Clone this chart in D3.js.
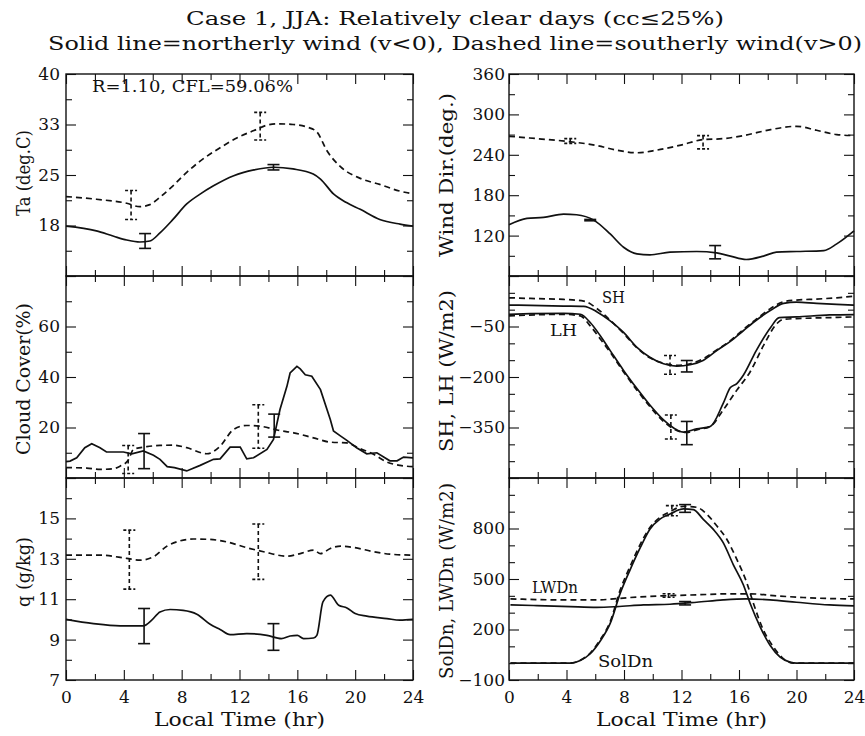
<!DOCTYPE html>
<html><head><meta charset="utf-8">
<script src="https://cdn.jsdelivr.net/npm/d3@7"></script>
<style>body{margin:0;background:#fff}svg{display:block}text{font-family:"DejaVu Serif",serif;fill:#111}</style>
</head><body>
<script>
// ---------------- DATA ----------------
const xMajor = [0,4,8,12,16,20,24];
const xMinor = [2,6,10,14,18,22];

// Ta (deg.C)
const taSolid = [[0,17.4],[2.1,16.7],[3.3,15.9],[4.2,15.35],[5.1,15.05],[5.8,15.2],[6.5,16.4],[7.4,18.4],[8.35,20.7],[9.3,22.2],[10.2,23.4],[11.6,24.9],[13,25.75],[14.35,26.15],[15.7,25.9],[17.1,25.15],[17.6,24.4],[18.5,22.2],[19.4,20.9],[20.35,19.9],[21.7,18.4],[23.1,17.7],[24,17.4]];
const taDashed = [[0,21.8],[2.1,21.4],[4.2,20.8],[5.1,20.3],[5.8,20.6],[6.5,21.7],[7.4,23.4],[8.35,25.4],[9.3,27.1],[10.7,29.1],[12,30.7],[13,31.6],[13.9,32.4],[14.6,32.6],[15.7,32.5],[16.7,32.1],[17.35,31.4],[18.05,28.6],[19,26.2],[20.35,24.5],[21.7,23.6],[23.1,22.6],[24,22.2]];
const taSolidErr = [[5.47,16.3,14.1],[14.35,26.55,25.75]];
const taDashedErr = [[4.5,22.7,18.4],[13.43,34.3,30.2]];
const taMajor = [40,32.5,25,17.5,10], taLabels = ["40","33","25","18",""], taMinor = [36.25,28.75,21.25,13.75];

// Wind Dir (deg.)
const wdSolid = [[0,136],[1.25,145.5],[2.4,147],[3.8,152],[4.7,151],[5.9,143],[7.04,122.4],[7.97,102.7],[8.9,92.9],[9.8,91.4],[11.2,95.4],[13.06,96.4],[14.45,94.4],[15.4,89.5],[16.5,84.5],[17.7,89.5],[18.6,95.4],[20,96.4],[21.9,97.8],[22.8,107.7],[24,127]];
const wdDashed = [[0,267.5],[1.95,264],[4.03,260],[6.1,253.8],[7.5,246.9],[8.9,243],[10.3,247],[12.1,255.2],[13.5,262.6],[14.9,264],[16.3,268.5],[18.2,277.4],[20,282.3],[21.4,276.4],[22.8,270],[24,268.5]];
const wdSolidErr = [[5.65,144,142],[14.34,105.2,85.5]];
const wdDashedErr = [[4.26,264,257],[13.5,268.5,248.8]];
const wdMajor = [360,300,240,180,120,60], wdLabels = ["360","300","240","180","120",""], wdMinor = [330,270,210,150,90];

// Cloud Cover (%)
const ccSolid = [[0,6.5],[0.28,6.7],[0.74,8],[1.3,12],[1.78,13.6],[2.35,12],[2.8,10.3],[3.97,10.3],[4.55,9.6],[5.35,10.7],[6.05,9],[6.5,7.4],[7,4.5],[7.5,4.1],[8.35,2.8],[9.28,5],[10.2,7.4],[10.66,7.6],[11.35,12.2],[12.05,12.2],[12.5,7.6],[12.97,8],[13.9,11.3],[14.35,15.3],[14.8,27.1],[15.28,36.3],[15.5,41.6],[15.97,44.2],[16.2,43.2],[16.55,40.9],[17,40.3],[17.6,35],[18.28,23.2],[18.5,18.6],[19,16.6],[19.4,15],[20.1,12],[20.8,9.6],[21.5,10],[22.4,6.8],[22.9,6.8],[23.35,8.3],[24,8]];
const ccDashed = [[0,4.1],[1.43,3.95],[2.35,3.4],[3.3,3.7],[3.74,4.7],[4.3,7],[4.66,11.3],[5.58,12.4],[6.5,12.9],[7.43,13],[8.35,12],[9.74,9.6],[10.66,12.6],[11.58,19.2],[12.5,20.8],[13.43,20.5],[14.6,19],[15.74,17.9],[17.12,15.9],[18.28,14.2],[19.4,13.9],[20.35,11.6],[21.3,9.3],[22.2,6.3],[23.1,5],[24,4.5]];
const ccSolidErr = [[5.4,17.6,3.7],[14.4,25.3,16.2]];
const ccDashedErr = [[4.3,12.9,1.8],[13.3,29,11.8]];
const ccMajor = [80,60,40,20,0], ccLabels = ["","60","40","20",""], ccMinor = [70,50,30,10];

// SH, LH (W/m2)
const shSolid = [[0,13.7],[1.5,12.7],[3.8,10.8],[5.2,9.8],[6.1,-5.9],[7.04,-33.3],[7.97,-67.6],[8.9,-111.8],[9.8,-141.2],[10.75,-160.8],[11.67,-167.6],[12.6,-163.7],[13.5,-151],[14.45,-121.6],[15.4,-94],[16.3,-62.7],[17.2,-31.4],[18.2,-2],[19.1,18.6],[20,22.5],[21.4,18.6],[22.8,15.7],[24,13.7]];
const shDashed = [[0,35.3],[1.5,33.3],[3.8,30.4],[5.2,25.5],[6.1,3.9],[7.04,-31.4],[7.97,-70.6],[8.9,-113.7],[9.8,-143],[10.75,-158.8],[11.67,-165.7],[12.6,-160.8],[13.5,-146],[14.45,-119.6],[15.4,-92],[16.3,-58.8],[17.2,-28.4],[18.2,3.9],[19.1,23.5],[20,28.4],[21.4,31.4],[22.8,35.3],[24,40.2]];
const lhSolid = [[0,-13.7],[1.5,-11.8],[3.8,-10.8],[4.96,-13.7],[5.65,-38.2],[6.35,-77.5],[7.04,-121.6],[7.97,-180.4],[8.9,-234.3],[9.8,-283.3],[10.75,-327.5],[11.67,-356.9],[12.14,-363.7],[13.06,-354],[14,-347],[14.9,-278.4],[15.4,-231.4],[15.85,-219.6],[16.3,-195],[17.2,-121.6],[18.2,-53],[18.8,-23.5],[20,-21.6],[22.3,-15.7],[24,-14.7]];
const lhDashed = [[0,-18.6],[3.8,-13.7],[4.96,-18.6],[5.65,-48],[6.35,-87],[7.04,-126.5],[7.97,-185],[8.9,-239],[9.8,-288],[10.75,-332],[11.67,-358.8],[12.37,-364.7],[13.06,-357],[14,-347],[14.9,-298],[15.85,-239],[16.77,-185],[17.7,-107],[18.6,-43],[19.1,-28.4],[20,-26.5],[22.3,-23.5],[24,-21.6]];
const shSolidErr = [[12.37,-151,-185],[12.37,-332,-401]];
const shDashedErr = [[11.2,-136,-192],[11.26,-312.7,-384]];
const shMajor = [100,-50,-200,-350,-500], shLabels = ["","\u221250","\u2212200","\u2212350",""], shMinor = [50,0,-100,-150,-250,-300,-400,-450];

// q (g/kg)
const qSolid = [[0,10],[1.9,9.79],[3.74,9.68],[5.35,9.68],[5.93,9.96],[6.5,10.37],[7.2,10.49],[8.1,10.45],[9.05,10.26],[9.97,9.76],[10.66,9.5],[11.35,9.25],[12.5,9.3],[13.9,9.21],[14.9,9.05],[15.5,9.18],[16,9.21],[16.43,9.05],[17.12,9.08],[17.35,9.21],[17.77,10.87],[18.28,11.2],[18.86,10.7],[19.43,10.57],[20,10.29],[20.8,10.16],[22.2,10.04],[23.1,9.96],[24,10]];
const qDashed = [[0,13.18],[2.35,13.18],[4.2,13.02],[5.12,12.93],[6.05,13.1],[7,13.63],[7.9,13.89],[8.8,13.98],[9.97,13.96],[11.1,13.84],[12.5,13.55],[13.66,13.35],[15.28,13.13],[16.2,13.26],[17.12,13.43],[17.6,13.26],[18.28,13.51],[19,13.63],[19.9,13.56],[21.3,13.35],[22.4,13.23],[24,13.18]];
const qSolidErr = [[5.4,10.54,8.8],[14.35,9.79,8.47]];
const qDashedErr = [[4.38,14.42,11.5],[13.3,14.72,11.98]];
const qMajor = [17,15,13,11,9,7], qLabels = ["","15","13","11","9","7"], qMinor = [16,14,12,10,8];

// SolDn, LWDn (W/m2)
const sdSolid = [[0.1,0],[4.26,0],[4.96,16],[5.65,56],[6.35,132],[7.04,236],[7.74,416],[8.43,556],[9.13,686],[9.8,796],[10.5,856],[11.2,886],[12.14,916],[12.83,912],[13.5,856],[14.2,796],[14.9,716],[15.6,586],[16.3,466],[16.77,356],[17.47,216],[18.16,106],[18.86,36],[19.55,6],[20,0],[24,0]];
const sdDashed = [[0.1,0],[4.26,0],[4.96,18],[5.65,60],[6.35,140],[7.04,246],[7.74,436],[8.43,576],[9.13,706],[9.8,806],[10.5,866],[11.2,900],[12.14,932],[13.06,926],[13.75,886],[14.45,816],[15.15,736],[15.85,616],[16.55,476],[17,356],[17.7,196],[18.4,96],[19.1,26],[19.8,0],[24,0]];
const lwSolid = [[0.1,346],[1.95,342],[4.26,336],[6.1,332],[7.5,336],[9.35,346],[11.2,350],[13.06,362],[14.9,376],[16.5,382],[18.16,376],[20,362],[22.3,346],[24,340]];
const lwDashed = [[0.1,382],[3.8,376],[6.1,376],[8.43,390],[10.75,400],[13.06,406],[15.4,412],[16.77,412],[18.6,400],[20.47,390],[22.3,384],[24,382]];
const sdSolidErr = [[12.25,942,896],[12.25,366,346]];
const sdDashedErr = [[11.33,936,876],[11.1,412,392]];
const sdMajor = [1100,800,500,200,-100], sdLabels = ["","800","500","200","\u2212100"], sdMinor = [1000,900,700,600,400,300,100,0];

// ---------------- LAYOUT ----------------
const W = 865, H = 736;
const cols = [[66,413],[509,854]];
const rows = [[74,276],[276,478],[478,680]];

const svg = d3.select("body").append("svg").attr("width",W).attr("height",H);

svg.append("text").attr("x",455).attr("y",25).attr("text-anchor","middle")
  .attr("font-size",19).attr("textLength",538).attr("lengthAdjust","spacingAndGlyphs")
  .text("Case 1, JJA: Relatively clear days (cc\u226425%)");
svg.append("text").attr("x",455).attr("y",50).attr("text-anchor","middle")
  .attr("font-size",19).attr("textLength",814).attr("lengthAdjust","spacingAndGlyphs")
  .text("Solid line=northerly wind (v<0), Dashed line=southerly wind(v>0)");

const panels = [
  {c:0,r:0,dom:[10,40],major:taMajor,labels:taLabels,minor:taMinor,ylabel:"Ta (deg.C)",ly:[173,86],
   lines:[[taSolid,0],[taDashed,1]],errs:[[taSolidErr,0],[taDashedErr,1]]},
  {c:1,r:0,dom:[60,360],major:wdMajor,labels:wdLabels,minor:wdMinor,ylabel:"Wind Dir.(deg.)",ly:[175,164],
   lines:[[wdSolid,0],[wdDashed,1]],errs:[[wdSolidErr,0],[wdDashedErr,1]]},
  {c:0,r:1,dom:[0,80],major:ccMajor,labels:ccLabels,minor:ccMinor,ylabel:"Cloud Cover(%)",ly:[379,152],
   lines:[[ccSolid,0,true],[ccDashed,1]],errs:[[ccSolidErr,0],[ccDashedErr,1]]},
  {c:1,r:1,dom:[-500,100],major:shMajor,labels:shLabels,minor:shMinor,ylabel:"SH, LH (W/m2)",ly:[371,162],
   lines:[[shSolid,0],[shDashed,1],[lhSolid,0],[lhDashed,1]],errs:[[shSolidErr,0],[shDashedErr,1]]},
  {c:0,r:2,dom:[7,17],major:qMajor,labels:qLabels,minor:qMinor,ylabel:"q (g/kg)",ly:[572,70],
   lines:[[qSolid,0],[qDashed,1]],errs:[[qSolidErr,0],[qDashedErr,1]]},
  {c:1,r:2,dom:[-100,1100],major:sdMajor,labels:sdLabels,minor:sdMinor,ylabel:"SolDn, LWDn (W/m2)",ly:[581,196],
   lines:[[sdSolid,0],[sdDashed,1],[lwSolid,0],[lwDashed,1]],errs:[[sdSolidErr,0],[sdDashedErr,1]]}
];

panels.forEach((p,pi)=>{
  const [x0,x1] = cols[p.c], [y0,y1] = rows[p.r];
  const x = d3.scaleLinear().domain([0,24]).range([x0,x1]);
  const y = d3.scaleLinear().domain(p.dom).range([y1,y0]);
  const g = svg.append("g");
  const styl = sel => { sel.select(".domain").remove(); sel.selectAll("line").attr("stroke","#111").attr("stroke-width",1.1);
    sel.selectAll("text").attr("font-family","DejaVu Serif").attr("font-size",17).attr("fill","#111"); };
  // y axes
  g.append("g").attr("transform",`translate(${x0},0)`)
    .call(d3.axisLeft(y).tickValues(p.major).tickSize(-10).tickPadding(p.c?4:6).tickFormat((d,i)=>p.labels[i])).call(styl);
  g.append("g").attr("transform",`translate(${x0},0)`)
    .call(d3.axisLeft(y).tickValues(p.minor).tickSize(-6).tickFormat("")).call(styl);
  g.append("g").attr("transform",`translate(${x1},0)`)
    .call(d3.axisRight(y).tickValues(p.major).tickSize(-10).tickFormat("")).call(styl);
  g.append("g").attr("transform",`translate(${x1},0)`)
    .call(d3.axisRight(y).tickValues(p.minor).tickSize(-6).tickFormat("")).call(styl);
  // x axes
  g.append("g").attr("transform",`translate(0,${y1})`)
    .call(d3.axisBottom(x).tickValues(xMajor).tickSize(-10).tickPadding(11).tickFormat(p.r===2?d3.format("d"):"")).call(styl);
  g.append("g").attr("transform",`translate(0,${y1})`)
    .call(d3.axisBottom(x).tickValues(xMinor).tickSize(-6).tickFormat("")).call(styl);
  g.append("g").attr("transform",`translate(0,${y0})`)
    .call(d3.axisTop(x).tickValues(xMajor).tickSize(-10).tickFormat("")).call(styl);
  g.append("g").attr("transform",`translate(0,${y0})`)
    .call(d3.axisTop(x).tickValues(xMinor).tickSize(-6).tickFormat("")).call(styl);
  // frame
  g.append("rect").attr("x",x0).attr("y",y0).attr("width",x1-x0).attr("height",y1-y0)
    .attr("fill","none").attr("stroke","#111").attr("stroke-width",1.4);
  // y label
  const lx = p.c ? 447 : 24;
  g.append("text").attr("transform",`translate(${lx},${p.ly[0]}) rotate(-90)`)
    .attr("text-anchor","middle").attr("dy","0.35em").attr("font-size",18)
    .attr("textLength",p.ly[1]).attr("lengthAdjust","spacingAndGlyphs").text(p.ylabel);
  if (p.r===2) {
    g.append("text").attr("x",(x0+x1)/2).attr("y",726).attr("text-anchor","middle")
      .attr("font-size",18).attr("textLength",171).attr("lengthAdjust","spacingAndGlyphs").text("Local Time (hr)");
  }
  // lines
  p.lines.forEach(([data,dashed,linear])=>{
    const line = d3.line().x(d=>x(d[0])).y(d=>y(d[1])).curve(linear?d3.curveLinear:d3.curveMonotoneX);
    g.append("path").attr("d",line(data)).attr("fill","none").attr("stroke","#111")
      .attr("stroke-width",1.7).attr("stroke-dasharray",dashed?"6,4":null);
  });
  // error bars
  p.errs.forEach(([errs,dashed])=>{
    errs.forEach(([h,hi,lo])=>{
      const eg = g.append("g").attr("stroke","#111").attr("stroke-width",1.6);
      eg.append("line").attr("x1",x(h)).attr("x2",x(h)).attr("y1",y(hi)).attr("y2",y(lo))
        .attr("stroke-dasharray",dashed?"4,3":null);
      [hi,lo].forEach(v=>eg.append("line").attr("x1",x(h)-6).attr("x2",x(h)+6).attr("y1",y(v)).attr("y2",y(v))
        .attr("stroke-dasharray",dashed?"3,2":null));
    });
  });
});

// annotations
const ann = [[92,92,"R=1.10, CFL=59.06%",201],[602,303,"SH",23],[550,336,"LH",27],[532,593,"LWDn",46],[598,667,"SolDn",55]];
ann.forEach(([ax,ay,t,len])=>svg.append("text").attr("x",ax).attr("y",ay).attr("font-size",16)
  .attr("textLength",len).attr("lengthAdjust","spacingAndGlyphs").text(t));
</script>
</body></html>
